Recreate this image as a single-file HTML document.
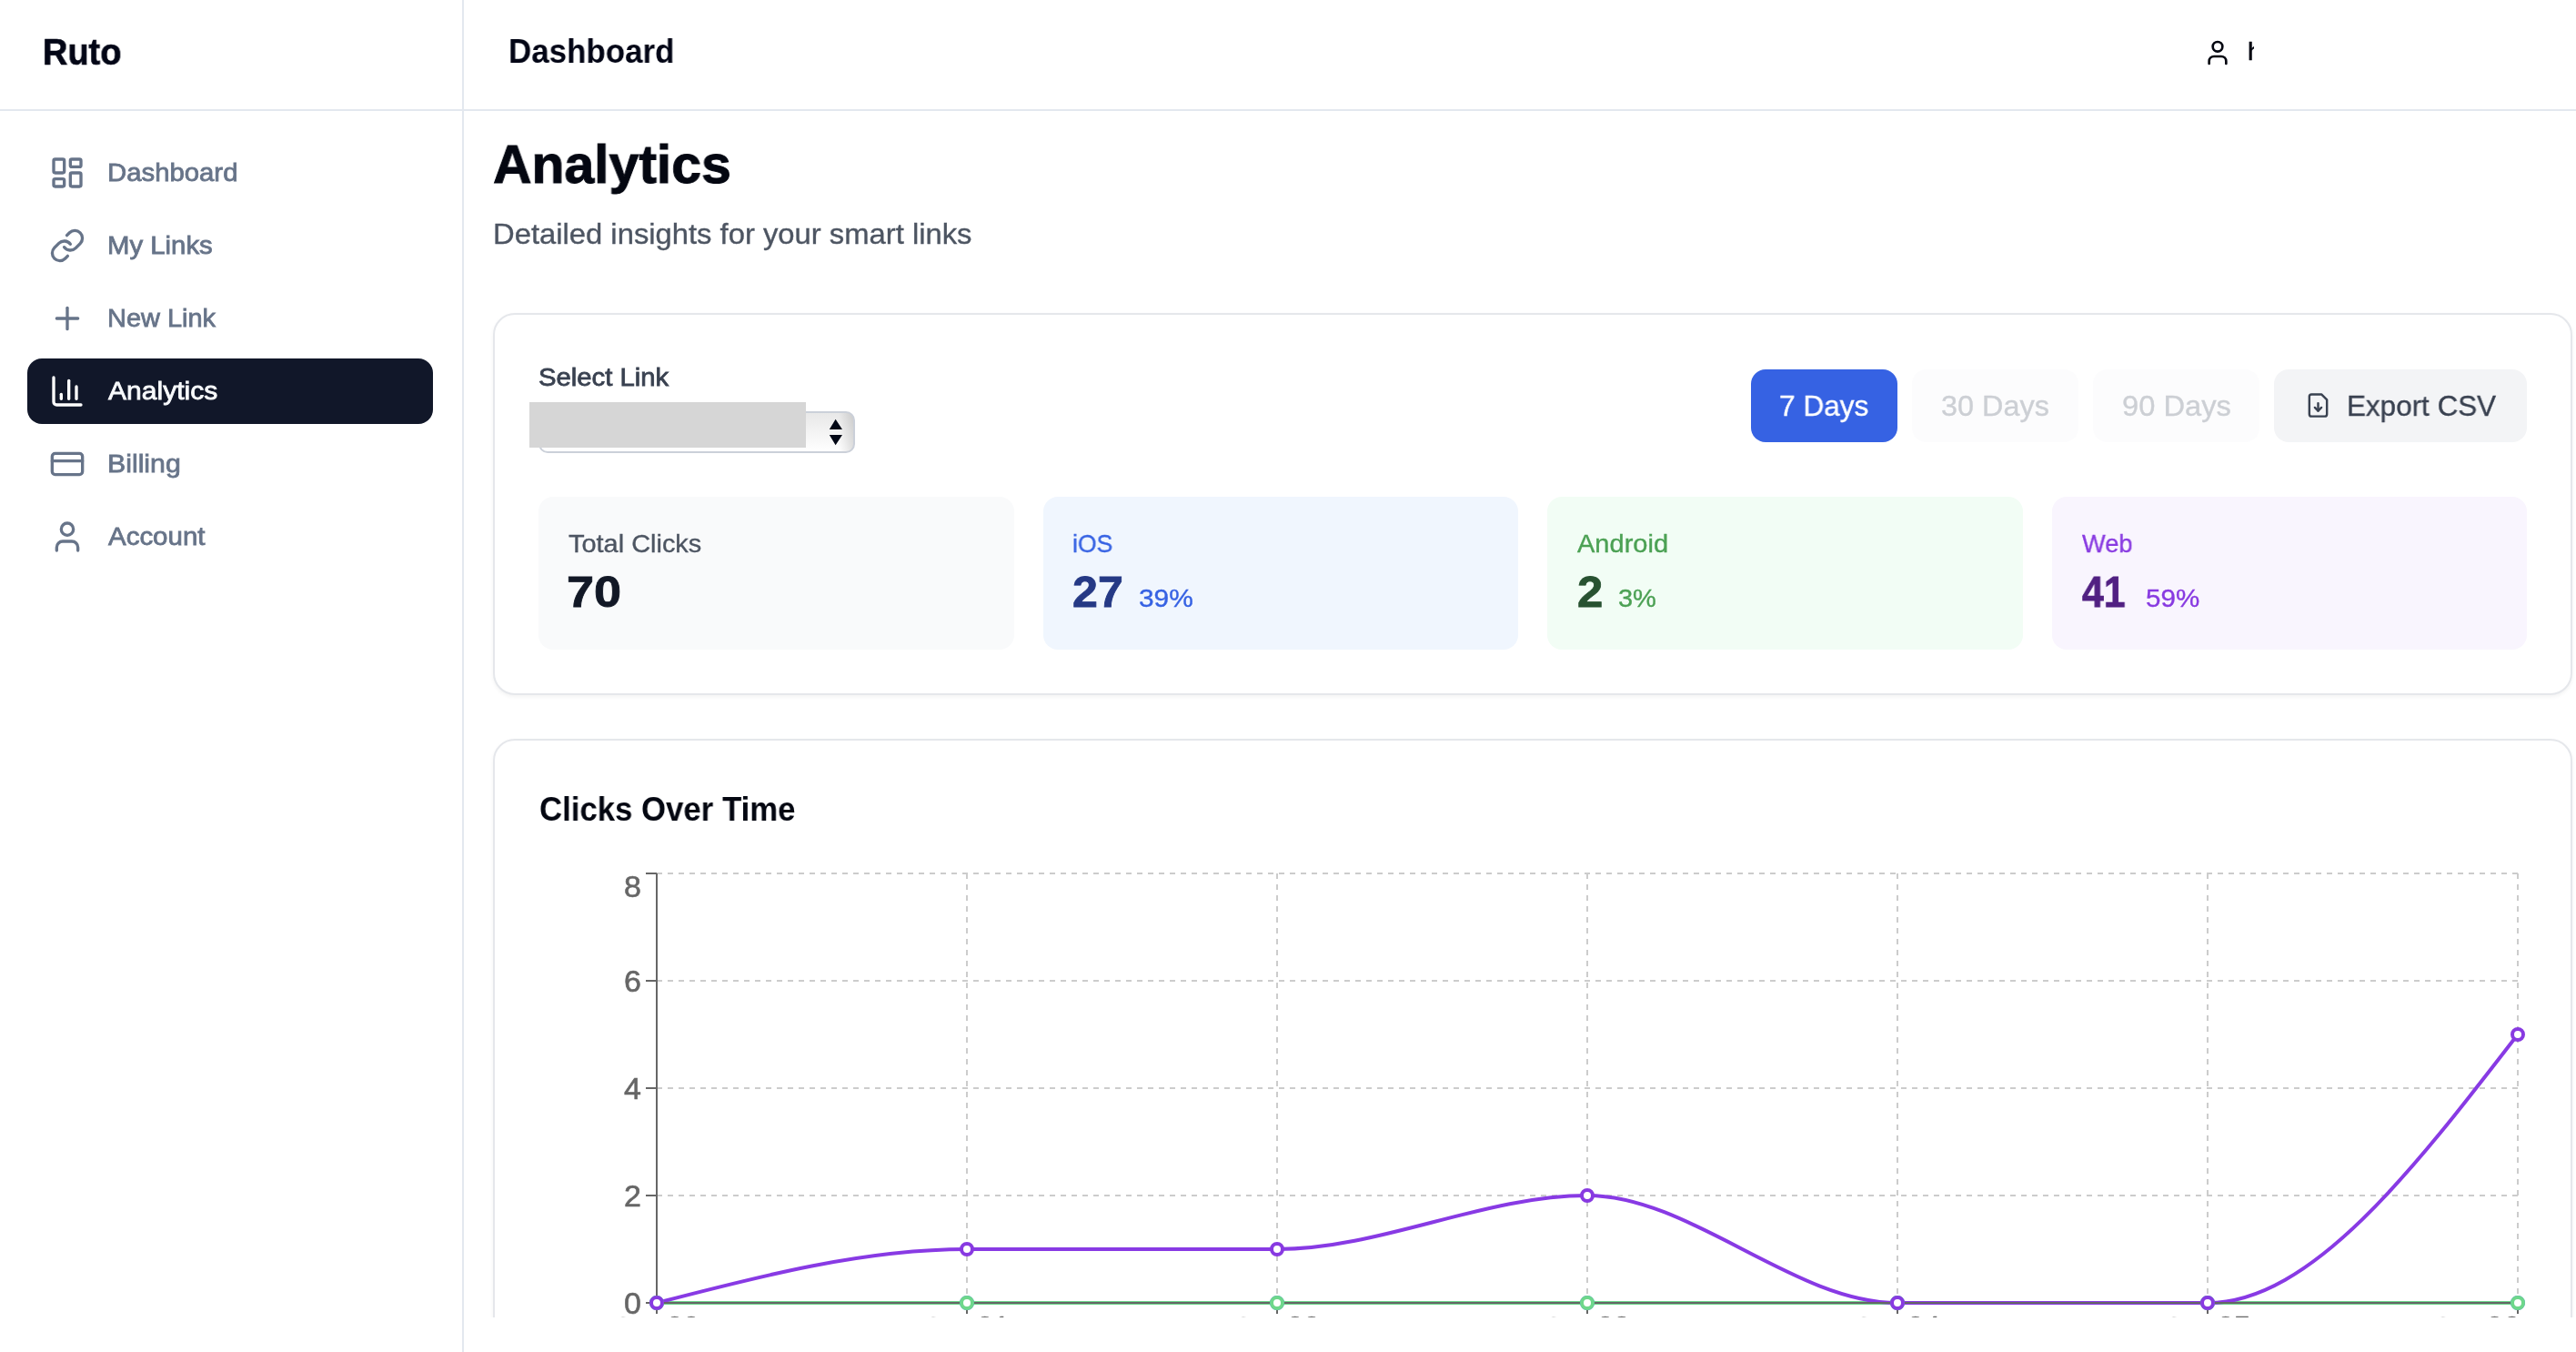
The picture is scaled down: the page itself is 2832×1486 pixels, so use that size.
<!DOCTYPE html><html><head><meta charset="utf-8"><title>Ruto Analytics</title><style>
*{margin:0;padding:0;box-sizing:border-box}
html,body{width:2832px;height:1486px;overflow:hidden;background:#fff}
body{font-family:"Liberation Sans", sans-serif;position:relative;color:#111827}
.abs{position:absolute}
.tx{position:absolute;white-space:nowrap;line-height:1;will-change:transform}
</style></head><body>
<div class="abs" style="left:508px;top:0;width:2px;height:1486px;background:#e3e8ef"></div>
<div class="abs" style="left:0;top:120px;width:2832px;height:2px;background:#e3e8ef"></div>
<div class="abs" style="left:30px;top:394px;width:446px;height:72px;border-radius:16px;background:#111729"></div>
<svg class="abs" style="left:54px;top:170px" width="40" height="40" viewBox="0 0 24 24" fill="none" stroke="#677489" stroke-width="2" stroke-linecap="round" stroke-linejoin="round"><rect width="7" height="9" x="3" y="3" rx="1"/><rect width="7" height="5" x="14" y="3" rx="1"/><rect width="7" height="9" x="14" y="12" rx="1"/><rect width="7" height="5" x="3" y="16" rx="1"/></svg>
<svg class="abs" style="left:54px;top:250px" width="40" height="40" viewBox="0 0 24 24" fill="none" stroke="#677489" stroke-width="2" stroke-linecap="round" stroke-linejoin="round"><path d="M10 13a5 5 0 0 0 7.54.54l3-3a5 5 0 0 0-7.07-7.07l-1.72 1.71"/><path d="M14 11a5 5 0 0 0-7.54-.54l-3 3a5 5 0 0 0 7.07 7.07l1.71-1.71"/></svg>
<svg class="abs" style="left:54px;top:330px" width="40" height="40" viewBox="0 0 24 24" fill="none" stroke="#677489" stroke-width="2" stroke-linecap="round" stroke-linejoin="round"><path d="M5 12h14"/><path d="M12 5v14"/></svg>
<svg class="abs" style="left:54px;top:410px" width="40" height="40" viewBox="0 0 24 24" fill="none" stroke="#ffffff" stroke-width="2" stroke-linecap="round" stroke-linejoin="round"><path d="M3 3v16a2 2 0 0 0 2 2h16"/><path d="M18 17V9"/><path d="M13 17V5"/><path d="M8 17v-3"/></svg>
<svg class="abs" style="left:54px;top:490px" width="40" height="40" viewBox="0 0 24 24" fill="none" stroke="#677489" stroke-width="2" stroke-linecap="round" stroke-linejoin="round"><rect width="20" height="14" x="2" y="5" rx="2"/><line x1="2" x2="22" y1="10" y2="10"/></svg>
<svg class="abs" style="left:54px;top:570px" width="40" height="40" viewBox="0 0 24 24" fill="none" stroke="#677489" stroke-width="2" stroke-linecap="round" stroke-linejoin="round"><path d="M19 21v-2a4 4 0 0 0-4-4H9a4 4 0 0 0-4 4v2"/><circle cx="12" cy="7" r="4"/></svg>
<svg class="abs" style="left:2422px;top:42px" width="32" height="32" viewBox="0 0 24 24" fill="none" stroke="#040711" stroke-width="2" stroke-linecap="round" stroke-linejoin="round"><path d="M19 21v-2a4 4 0 0 0-4-4H9a4 4 0 0 0-4 4v2"/><circle cx="12" cy="7" r="4"/></svg>
<div class="abs" style="left:2470px;top:34px;width:8.1px;height:48px;overflow:hidden"><div class="tx" style="left:0.7px;top:9.0px;font-size:28px;color:#040711;-webkit-text-stroke:0.6px #040711">hello</div></div>
<div class="abs" style="left:542px;top:344px;width:2286px;height:420px;background:#fff;border:2px solid #e5e7eb;border-radius:24px;box-shadow:0 2px 4px rgba(0,0,0,0.05)"></div>
<div class="abs" style="left:542px;top:812px;width:2286px;height:788px;background:#fff;border:2px solid #e5e7eb;border-radius:24px;box-shadow:0 2px 4px rgba(0,0,0,0.05)"></div>
<div class="abs" style="left:592px;top:452px;width:348px;height:46px;border:2px solid #cbd0d9;border-radius:10px;background:linear-gradient(to right, rgba(0,0,0,0) 0, rgba(0,0,0,0) 328px, rgba(0,0,0,0.12) 344px), linear-gradient(#e8e8e8,#ffffff)"></div>
<svg class="abs" style="left:908px;top:458px" width="22" height="34" viewBox="0 0 22 34"><path d="M10.6 2.8 L3.8 14 L18 14 Z M3.8 20 L18 20 L10.6 31.2 Z" fill="#030816"/></svg>
<div class="abs" style="left:582px;top:442px;width:304px;height:50px;background:#d6d6d6"></div>
<div class="abs" style="left:1925px;top:406px;width:161px;height:80px;border-radius:16px;background:#3662e3"></div>
<div class="abs" style="left:2102px;top:406px;width:183px;height:80px;border-radius:16px;background:#fcfcfd"></div>
<div class="abs" style="left:2301px;top:406px;width:183px;height:80px;border-radius:16px;background:#fcfcfd"></div>
<div class="abs" style="left:2500px;top:406px;width:278px;height:80px;border-radius:16px;background:#f3f4f6"></div>
<svg class="abs" style="left:2533.5px;top:430.9px" width="29" height="29" viewBox="0 0 24 24" fill="none" stroke="#394150" stroke-width="2" stroke-linecap="round" stroke-linejoin="round"><path d="M15 2H6a2 2 0 0 0-2 2v16a2 2 0 0 0 2 2h12a2 2 0 0 0 2-2V7Z"/><path d="M12 17v-7"/><path d="m9 14 3 3 3-3"/></svg>
<div class="abs" style="left:592px;top:546px;width:522.5px;height:168px;border-radius:16px;background:#f9fafb"></div>
<div class="abs" style="left:1146.5px;top:546px;width:522.5px;height:168px;border-radius:16px;background:#f0f6fe"></div>
<div class="abs" style="left:1701px;top:546px;width:522.5px;height:168px;border-radius:16px;background:#f2fdf5"></div>
<div class="abs" style="left:2255.5px;top:546px;width:522.5px;height:168px;border-radius:16px;background:#f9f5fe"></div>
<svg class="abs" style="left:592px;top:950px;will-change:transform" width="2186" height="600" viewBox="592 950 2186 600"><g stroke="#ccc" stroke-width="2" stroke-dasharray="6 6" fill="none"><line x1="722" y1="1432" x2="2768" y2="1432"/><line x1="722" y1="1314" x2="2768" y2="1314"/><line x1="722" y1="1196" x2="2768" y2="1196"/><line x1="722" y1="1078" x2="2768" y2="1078"/><line x1="722" y1="960" x2="2768" y2="960"/><line x1="722" y1="960" x2="722" y2="1432"/><line x1="1063" y1="960" x2="1063" y2="1432"/><line x1="1404" y1="960" x2="1404" y2="1432"/><line x1="1745" y1="960" x2="1745" y2="1432"/><line x1="2086" y1="960" x2="2086" y2="1432"/><line x1="2427" y1="960" x2="2427" y2="1432"/><line x1="2768" y1="960" x2="2768" y2="1432"/></g><path d="M722.00,1432.00C835.67,1432.00,949.33,1432.00,1063.00,1432.00C1176.67,1432.00,1290.33,1432.00,1404.00,1432.00C1517.67,1432.00,1631.33,1432.00,1745.00,1432.00C1858.67,1432.00,1972.33,1432.00,2086.00,1432.00C2199.67,1432.00,2313.33,1432.00,2427.00,1432.00C2540.67,1432.00,2654.33,1432.00,2768.00,1432.00" stroke="#4e80ee" stroke-width="4" fill="none"/><path d="M722.00,1432.00C835.67,1432.00,949.33,1432.00,1063.00,1432.00C1176.67,1432.00,1290.33,1432.00,1404.00,1432.00C1517.67,1432.00,1631.33,1432.00,1745.00,1432.00C1858.67,1432.00,1972.33,1432.00,2086.00,1432.00C2199.67,1432.00,2313.33,1432.00,2427.00,1432.00C2540.67,1432.00,2654.33,1432.00,2768.00,1432.00" stroke="#6ed78b" stroke-width="4" fill="none"/><path d="M722.00,1432.00C835.67,1402.50,949.33,1373.00,1063.00,1373.00C1176.67,1373.00,1290.33,1373.00,1404.00,1373.00C1517.67,1373.00,1631.33,1314.00,1745.00,1314.00C1858.67,1314.00,1972.33,1432.00,2086.00,1432.00C2199.67,1432.00,2313.33,1432.00,2427.00,1432.00C2540.67,1432.00,2654.33,1284.50,2768.00,1137.00" stroke="#883ae4" stroke-width="4" fill="none"/><g stroke="#666" stroke-width="2" fill="none"><line x1="722" y1="1432" x2="2768" y2="1432"/><line x1="722" y1="1432" x2="722" y2="1444"/><line x1="1063" y1="1432" x2="1063" y2="1444"/><line x1="1404" y1="1432" x2="1404" y2="1444"/><line x1="1745" y1="1432" x2="1745" y2="1444"/><line x1="2086" y1="1432" x2="2086" y2="1444"/><line x1="2427" y1="1432" x2="2427" y2="1444"/><line x1="2768" y1="1432" x2="2768" y2="1444"/><line x1="722" y1="960" x2="722" y2="1432"/><line x1="710" y1="1432" x2="722" y2="1432"/><line x1="710" y1="1314" x2="722" y2="1314"/><line x1="710" y1="1196" x2="722" y2="1196"/><line x1="710" y1="1078" x2="722" y2="1078"/><line x1="710" y1="960" x2="722" y2="960"/></g><g fill="#666" stroke="#666" stroke-width="0.6" font-size="34" text-anchor="end" font-family="Liberation Sans, sans-serif"><text x="705.0" y="1443.6">0</text><text x="705.0" y="1325.6">2</text><text x="705.0" y="1207.6">4</text><text x="705.0" y="1089.6">6</text><text x="705.0" y="986.1">8</text></g><g fill="#666" stroke="#666" stroke-width="0.6" font-size="33" text-anchor="middle" font-family="Liberation Sans, sans-serif"><text x="720.5" y="1470.45"><tspan dy="1">Oct </tspan><tspan dy="-1">20</tspan></text><text x="1061.5" y="1470.45"><tspan dy="1">Oct </tspan><tspan dy="-1">21</tspan></text><text x="1402.5" y="1470.45"><tspan dy="1">Oct </tspan><tspan dy="-1">22</tspan></text><text x="1743.5" y="1470.45"><tspan dy="1">Oct </tspan><tspan dy="-1">23</tspan></text><text x="2084.5" y="1470.45"><tspan dy="1">Oct </tspan><tspan dy="-1">24</tspan></text><text x="2425.5" y="1470.45"><tspan dy="1">Oct </tspan><tspan dy="-1">25</tspan></text><text x="2770" y="1470.45" text-anchor="end"><tspan dy="1">Oct </tspan><tspan dy="-1">26</tspan></text></g><circle cx="722" cy="1432" r="6" fill="#fff" stroke="#4e80ee" stroke-width="4"/><circle cx="1063" cy="1432" r="6" fill="#fff" stroke="#4e80ee" stroke-width="4"/><circle cx="1404" cy="1432" r="6" fill="#fff" stroke="#4e80ee" stroke-width="4"/><circle cx="1745" cy="1432" r="6" fill="#fff" stroke="#4e80ee" stroke-width="4"/><circle cx="2086" cy="1432" r="6" fill="#fff" stroke="#4e80ee" stroke-width="4"/><circle cx="2427" cy="1432" r="6" fill="#fff" stroke="#4e80ee" stroke-width="4"/><circle cx="2768" cy="1432" r="6" fill="#fff" stroke="#4e80ee" stroke-width="4"/><circle cx="722" cy="1432" r="6" fill="#fff" stroke="#6ed78b" stroke-width="4"/><circle cx="1063" cy="1432" r="6" fill="#fff" stroke="#6ed78b" stroke-width="4"/><circle cx="1404" cy="1432" r="6" fill="#fff" stroke="#6ed78b" stroke-width="4"/><circle cx="1745" cy="1432" r="6" fill="#fff" stroke="#6ed78b" stroke-width="4"/><circle cx="2086" cy="1432" r="6" fill="#fff" stroke="#6ed78b" stroke-width="4"/><circle cx="2427" cy="1432" r="6" fill="#fff" stroke="#6ed78b" stroke-width="4"/><circle cx="2768" cy="1432" r="6" fill="#fff" stroke="#6ed78b" stroke-width="4"/><circle cx="722" cy="1432" r="6" fill="#fff" stroke="#883ae1" stroke-width="4"/><circle cx="1063" cy="1373" r="6" fill="#fff" stroke="#883ae1" stroke-width="4"/><circle cx="1404" cy="1373" r="6" fill="#fff" stroke="#883ae1" stroke-width="4"/><circle cx="1745" cy="1314" r="6" fill="#fff" stroke="#883ae1" stroke-width="4"/><circle cx="2086" cy="1432" r="6" fill="#fff" stroke="#883ae1" stroke-width="4"/><circle cx="2427" cy="1432" r="6" fill="#fff" stroke="#883ae1" stroke-width="4"/><circle cx="2768" cy="1137" r="6" fill="#fff" stroke="#883ae1" stroke-width="4"/></svg>
<div class="abs" style="left:510px;top:1448px;width:2322px;height:38px;background:#fff"></div>
<div class="tx" style="left:47.44px;top:37.14px;font-size:40px;font-weight:700;color:#030616;transform:scaleX(0.9484);transform-origin:0 0;-webkit-text-stroke:0.68px #030616;">Ruto</div>
<div class="tx" style="left:558.76px;top:38.53px;font-size:36px;font-weight:700;color:#030616;transform:scaleX(0.9704);transform-origin:0 0;">Dashboard</div>
<div class="tx" style="left:117.81px;top:176.30px;font-size:28px;font-weight:400;color:#677489;transform:scaleX(1.0472);transform-origin:0 0;-webkit-text-stroke:0.8px #677489;">Dashboard</div>
<div class="tx" style="left:118.00px;top:256.30px;font-size:28px;font-weight:400;color:#677489;transform:scaleX(1.0477);transform-origin:0 0;-webkit-text-stroke:0.8px #677489;">My Links</div>
<div class="tx" style="left:117.83px;top:336.30px;font-size:28px;font-weight:400;color:#677489;transform:scaleX(1.0337);transform-origin:0 0;-webkit-text-stroke:0.8px #677489;">New Link</div>
<div class="tx" style="left:119.10px;top:416.30px;font-size:28px;font-weight:400;color:#f8fafc;transform:scaleX(1.0744);transform-origin:0 0;-webkit-text-stroke:0.8px #f8fafc;">Analytics</div>
<div class="tx" style="left:117.94px;top:496.30px;font-size:28px;font-weight:400;color:#677489;transform:scaleX(1.0811);transform-origin:0 0;-webkit-text-stroke:0.8px #677489;">Billing</div>
<div class="tx" style="left:119.30px;top:576.30px;font-size:28px;font-weight:400;color:#677489;transform:scaleX(1.0523);transform-origin:0 0;-webkit-text-stroke:0.8px #677489;">Account</div>
<div class="tx" style="left:542.03px;top:151.21px;font-size:60px;font-weight:700;color:#040711;transform:scaleX(0.9809);transform-origin:0 0;-webkit-text-stroke:1.02px #040711;">Analytics</div>
<div class="tx" style="left:542.42px;top:240.51px;font-size:32px;font-weight:400;color:#4d5562;transform:scaleX(1.0243);transform-origin:0 0;-webkit-text-stroke:0.35px #4d5562;">Detailed insights for your smart links</div>
<div class="tx" style="left:592.35px;top:400.70px;font-size:28px;font-weight:400;color:#394150;transform:scaleX(1.0455);transform-origin:0 0;-webkit-text-stroke:0.8px #394150;">Select Link</div>
<div class="tx" style="left:1956.18px;top:430.21px;font-size:32px;font-weight:400;color:#ffffff;transform:scaleX(0.9879);transform-origin:0 0;-webkit-text-stroke:0.35px #ffffff;">7 Days</div>
<div class="tx" style="left:2134.46px;top:430.21px;font-size:32px;font-weight:400;color:#cccfd4;transform:scaleX(1.0127);transform-origin:0 0;-webkit-text-stroke:0.35px #cccfd4;">30 Days</div>
<div class="tx" style="left:2332.95px;top:430.21px;font-size:32px;font-weight:400;color:#cccfd4;transform:scaleX(1.0214);transform-origin:0 0;-webkit-text-stroke:0.35px #cccfd4;">90 Days</div>
<div class="tx" style="left:2580.11px;top:430.21px;font-size:32px;font-weight:400;color:#394150;transform:scaleX(0.9815);transform-origin:0 0;-webkit-text-stroke:0.35px #394150;">Export CSV</div>
<div class="tx" style="left:625.17px;top:584.05px;font-size:28px;font-weight:400;color:#4d5562;transform:scaleX(1.0332);transform-origin:0 0;-webkit-text-stroke:0.35px #4d5562;">Total Clicks</div>
<div class="tx" style="left:622.91px;top:627.37px;font-size:48px;font-weight:700;color:#121826;transform:scaleX(1.1255);transform-origin:0 0;-webkit-text-stroke:0.82px #121826;">70</div>
<div class="tx" style="left:1178.72px;top:584.05px;font-size:28px;font-weight:400;color:#3662e3;transform:scaleX(0.9480);transform-origin:0 0;-webkit-text-stroke:0.35px #3662e3;">iOS</div>
<div class="tx" style="left:1178.86px;top:627.37px;font-size:48px;font-weight:700;color:#253985;transform:scaleX(1.0442);transform-origin:0 0;-webkit-text-stroke:0.82px #253985;">27</div>
<div class="tx" style="left:1252.00px;top:644.30px;font-size:28px;font-weight:400;color:#3662e3;transform:scaleX(1.0668);transform-origin:0 0;-webkit-text-stroke:0.35px #3662e3;">39%</div>
<div class="tx" style="left:1733.92px;top:584.05px;font-size:28px;font-weight:400;color:#4ca154;transform:scaleX(1.0366);transform-origin:0 0;-webkit-text-stroke:0.35px #4ca154;">Android</div>
<div class="tx" style="left:1734.10px;top:627.37px;font-size:48px;font-weight:700;color:#285231;transform:scaleX(1.0598);transform-origin:0 0;-webkit-text-stroke:0.82px #285231;">2</div>
<div class="tx" style="left:1778.89px;top:644.30px;font-size:28px;font-weight:400;color:#4ca154;transform:scaleX(1.0347);transform-origin:0 0;-webkit-text-stroke:0.35px #4ca154;">3%</div>
<div class="tx" style="left:2289.17px;top:584.05px;font-size:28px;font-weight:400;color:#883ae1;transform:scaleX(0.9720);transform-origin:0 0;-webkit-text-stroke:0.35px #883ae1;">Web</div>
<div class="tx" style="left:2289.41px;top:627.37px;font-size:48px;font-weight:700;color:#512082;transform:scaleX(0.8907);transform-origin:0 0;-webkit-text-stroke:0.82px #512082;">41</div>
<div class="tx" style="left:2358.71px;top:644.30px;font-size:28px;font-weight:400;color:#883ae1;transform:scaleX(1.0557);transform-origin:0 0;-webkit-text-stroke:0.35px #883ae1;">59%</div>
<div class="tx" style="left:592.73px;top:871.53px;font-size:36px;font-weight:700;color:#040711;transform:scaleX(0.9655);transform-origin:0 0;">Clicks Over Time</div>
</body></html>
